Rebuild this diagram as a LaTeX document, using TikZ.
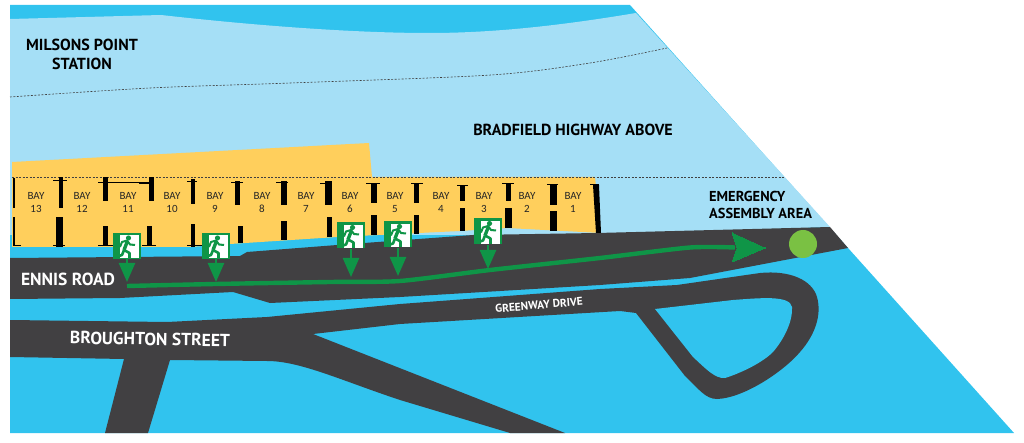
\documentclass[tikz,border=0pt]{standalone}
\usepackage{fontspec}
\setmainfont{PT Sans}
\newfontfamily\bayfont{Carlito}
\usetikzlibrary{arrows.meta}
\definecolor{water}{HTML}{31C3EE}
\definecolor{sky}{HTML}{A5DFF6}
\definecolor{canopy}{HTML}{FFCF5C}
\definecolor{road}{HTML}{414042}
\definecolor{exitgreen}{HTML}{0F9547}
\definecolor{meetgreen}{HTML}{7AC143}
\tikzset{
  x=1pt,y=-1pt,
  maplabel/.style={font=\fontsize{16}{19}\selectfont\bfseries, align=left, inner sep=0pt},
  roadlabel/.style={font=\fontsize{17.5}{19}\selectfont\bfseries, text=white, inner sep=0pt},
  baylabel/.style={font=\bayfont\fontsize{11}{13}\selectfont, align=center, inner sep=0pt, text=black!85},
  boundary/.style={line width=0.6pt, dash pattern=on 2pt off 1.5pt, black!75},
  exitsign/.style={fill=exitgreen, minimum width=28pt, minimum height=26pt, inner sep=0pt},
  exitarrow/.style={exitgreen, line width=2.4pt, -{Triangle[length=19pt,width=16pt]}},
  route/.style={exitgreen, line width=4.4pt},
  runner/.pic={
    \fill[white] (-7,-10.5) rectangle (12,12.5);
    \fill[exitgreen] (1.5,-8) circle (2.6);
    \draw[exitgreen, line width=3.4pt, line join=round] (0.5,-5) -- (-3,4);
    \draw[exitgreen, line width=2pt, line join=round] (-7,1) -- (-5,-4) -- (0,-5.5) -- (3,-1.5) -- (8,-1);
    \draw[exitgreen, line width=2.6pt, line join=round] (-3,4) -- (2.5,7) -- (2.5,12.5);
    \draw[exitgreen, line width=2.6pt, line join=round] (-3,4) -- (-5,9) -- (-8,10);
  }
}
\newcommand{\exitmark}[3]{%
  \node[exitsign] (#1) at (#2,#3) {};
  \path (#2,#3) pic {runner};
}
\begin{document}
\begin{tikzpicture}
  \useasboundingbox (0,0) rectangle (1024,443);
  % water and land
  \fill[water] (10,5) -- (630,5) -- (1014,433) -- (10,433) -- cycle;
  \fill[sky] (10,19) -- (161,15) .. controls (250,25) and (350,33) .. (429,33)
    .. controls (500,33) and (570,24) .. (636,13)
    -- (830,227) -- (597,235) -- (10,235) -- cycle;
  \fill[canopy] (12,162) -- (369,143) -- (372,177) -- (595,177) -- (601,233)
    -- (507,228) -- (460,231) -- (337,237) -- (230,244) -- (190,247) -- (12,247) -- cycle;
  % upper roads
  \fill[road] (10,258) -- (240,256) -- (247,252) -- (337,245) -- (473,235) -- (597,233) -- (830,227) -- (848,248)
    -- (690,278) -- (600,285) -- (400,297) -- (270,303) -- (233,292)
    -- (120,298) -- (10,299) -- cycle;
  \fill[road] (10,320) -- (167,322) -- (267,317) -- (400,304) -- (600,289) -- (677,285) -- (760,273)
    .. controls (790,270) and (812,280) .. (817,297)
    .. controls (822,315) and (815,335) .. (800,352)
    .. controls (785,370) and (745,398) .. (717,399)
    .. controls (705,399) and (698,388) .. (685,376)
    -- (636,313) -- (620,311) -- (400,324) -- (313,334) -- (565,433) -- (510,433) -- (400,400)
    .. controls (340,380) and (300,361) .. (267,361)
    -- (170,360) -- (148,433) -- (105,433) -- (124,359) -- (10,357) -- cycle;
  \fill[water] (655,309) -- (733,300) .. controls (760,298) and (790,295) .. (792,307)
    .. controls (793,320) and (785,338) .. (773,352)
    .. controls (760,365) and (735,375) .. (725,378)
    .. controls (715,379) and (705,368) .. (693,357) -- cycle;
  % boundaries
  \draw[boundary] plot[smooth] coordinates {(10,97) (150,88) (290,83) (491,75) (590,63) (667,48)};
  \coordinate (linestart) at (12,177);
  \coordinate (lineend) at (784,177);
  \draw[boundary] (linestart) -- (lineend);
  % pillars
  \foreach \xa/\xb/\ya/\yb in {13/15/178/208, 13/15/217/246, 59/63/177/208, 56/63/217/247,
      103/108/177/201, 103/108/226/246, 149/154/177/201, 147/152/226/246,
      191/195/179/204, 191/195/224/247, 235/240/181/205, 238/243/226/243,
      281/287/181/205, 281/287/221/240, 325/332/181/205, 327/332/217/237,
      371/377/183/203, 371/377/215/235, 414/419/183/203, 414/419/215/234,
      460/465/185/201, 460/465/208/231, 506/511/183/201, 505/512/208/228,
      550/557/185/205, 550/557/211/231}
    \fill[black] (\xa,\ya) rectangle (\xb,\yb);
  % caps
  \foreach \xa/\xb/\yc in {13/21/246, 53/67/181, 53/65/246, 98/148/183, 98/113/246, 142/156/246,
      187/197/182, 187/202/246, 231/243/183, 276/288/183, 320/332/184, 366/380/184, 411/423/184,
      457/468/186, 502/514/184, 547/558/185, 590/599/185}
    \draw[black, line width=1pt] (\xa,\yc) -- (\xb,\yc);
  \draw[black, line width=2pt] (139,183.5) -- (149,183.5);
  \fill[black] (593,185) -- (599,185) -- (601,233) -- (596,233) -- cycle;
  % bays
  \foreach \x/\n in {36/13, 82/12, 128/11, 172/10, 215/9, 262/8, 306/7, 350/6, 395/5, 441/4, 484/3, 527/2, 573/1}
    \node[baylabel] (bay\n) at (\x,202.5) {BAY\\\n};
  % exit route
  \coordinate (routestart) at (127,286);
  \coordinate (routeend) at (765,248);
  \draw[route] plot[smooth, tension=.4] coordinates {(routestart) (215,284) (330,282) (400,281) (490,270) (600,258) (690,247.5) (735,247.5)};
  \draw[route, line width=0pt, fill=exitgreen] (732,233) -- (routeend) -- (732,262) -- (737,248) -- cycle;
  % exit signs
  \exitmark{signa}{127}{246}
  \exitmark{signb}{216}{246}
  \exitmark{signc}{351}{235.5}
  \exitmark{signd}{398}{234.5}
  \exitmark{signe}{488}{231.5}
  \foreach \s/\x/\y in {signa/127/282, signb/216/282, signc/351/277, signd/398/276, signe/488/269} {
    \coordinate (tip\s) at (\x,\y);
    \draw[exitarrow] (\s.south) -- (tip\s);
  }
  % assembly point
  \node[circle, fill=meetgreen, minimum size=28pt, inner sep=0pt] (assembly) at (803,244) {};
  % labels
  \node[maplabel, align=center] (milsons) at (82,54.5) {MILSONS POINT\\STATION};
  \node[maplabel] (bradfield) at (573,130) {BRADFIELD HIGHWAY ABOVE};
  \node[maplabel, font=\fontsize{14.4}{17}\selectfont\bfseries, anchor=west] (emergency) at (709,204.5) {EMERGENCY\\ASSEMBLY AREA};
  \node[roadlabel] (ennis) at (68,279) {ENNIS ROAD};
  \node[roadlabel, rotate=-1] (broughton) at (150,339) {BROUGHTON STREET};
  \node[roadlabel, font=\fontsize{11.3}{12}\selectfont\bfseries, rotate=5] (greenway) at (539,305) {GREENWAY DRIVE};
\end{tikzpicture}
\end{document}
